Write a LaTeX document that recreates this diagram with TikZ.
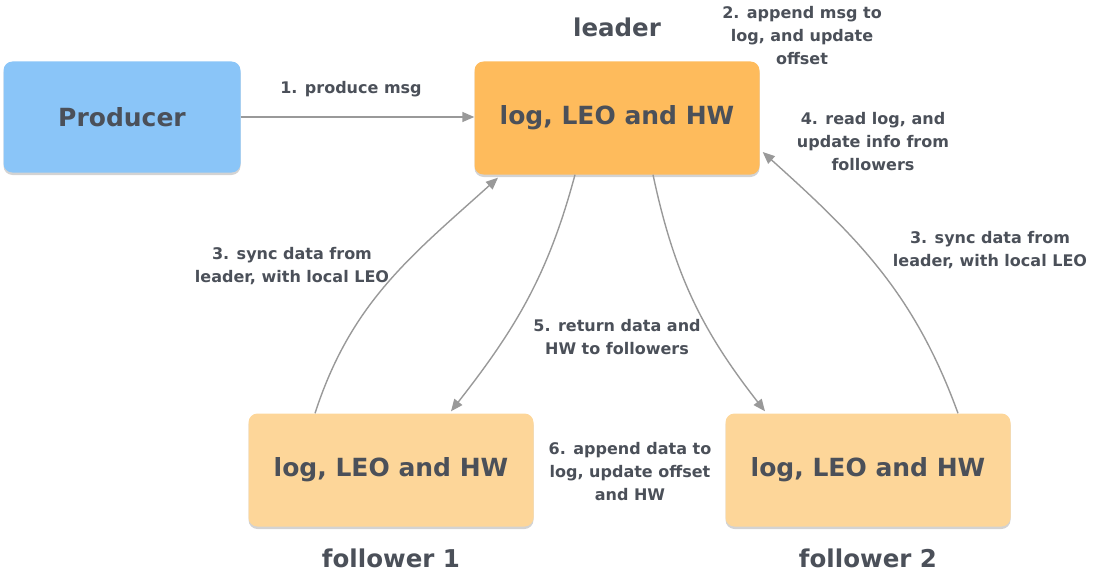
\documentclass[tikz,border=0pt]{standalone}
\usepackage{fontspec}
\setmainfont{DejaVu Sans}
\usepackage{xcolor}
\usetikzlibrary{arrows.meta,shadows}

\definecolor{txtgray}{HTML}{4B5059}
\definecolor{linegray}{HTML}{999999}
\definecolor{prodblue}{HTML}{8AC5F8}
\definecolor{leadorange}{HTML}{FEBB5C}
\definecolor{follorange}{HTML}{FDD699}

\begin{document}
\begin{tikzpicture}[x=1pt, y=1pt, >={Triangle[length=12pt, width=10pt]},
	box/.style={rounded corners=9pt, minimum width=285pt, minimum height=113pt, text=txtgray,
		font=\bfseries\fontsize{25}{34}\selectfont,
		drop shadow={shadow xshift=0pt, shadow yshift=-2.5pt, opacity=0.35}},
	lbl/.style={align=center, text=txtgray, font=\bfseries\fontsize{16}{23}\selectfont},
	title/.style={text=txtgray, font=\bfseries\fontsize{24.5}{32}\selectfont},
	conn/.style={->, draw=linegray, line width=1.4pt}]
	\useasboundingbox (0,0) rectangle (1095,-578);

	\node[box, fill=prodblue, minimum width=237pt, minimum height=111pt] (prod) at (122,-117) {Producer};
	\node[box, fill=leadorange] (ldr) at (617,-118) {log, LEO and HW};
	\node[box, fill=follorange] (f1) at (391,-470) {log, LEO and HW};
	\node[box, fill=follorange] (f2) at (868,-470) {log, LEO and HW};

	\node[title] (tldr) at (617,-27) {leader};
	\node[title] (tf1) at (391,-558) {follower 1};
	\node[title] (tf2) at (868,-558) {follower 2};

	\node[lbl] (s1) at (351,-89) {1. produce msg};
	\node[lbl] (s2) at (802,-36) {2. append msg to\\log, and update\\offset};
	\node[lbl] (s4) at (873,-142) {4. read log, and\\update info from\\followers};
	\node[lbl] (s3a) at (292,-266) {3. sync data from\\leader, with local LEO};
	\node[lbl] (s3b) at (990,-250) {3. sync data from\\leader, with local LEO};
	\node[lbl] (s5) at (617,-337) {5. return data and\\HW to followers};
	\node[lbl] (s6) at (630,-472) {6. append data to\\log, update offset\\and HW};

	\draw[conn] (prod.east) -- (prod.east -| ldr.west);
	\draw[conn] ([xshift=-76pt]f1.north) to[out=72, in=222] ([xshift=-119pt, yshift=-3pt]ldr.south);
	\draw[conn] ([xshift=-42pt]ldr.south) to[out=255, in=52] ([xshift=60pt, yshift=2pt]f1.north);
	\draw[conn] ([xshift=36pt]ldr.south) to[out=282, in=128] ([xshift=-103pt, yshift=2pt]f2.north);
	\draw[conn] ([xshift=90pt]f2.north) to[out=110, in=318] ([xshift=3pt, yshift=-34pt]ldr.east);
\end{tikzpicture}
\end{document}
